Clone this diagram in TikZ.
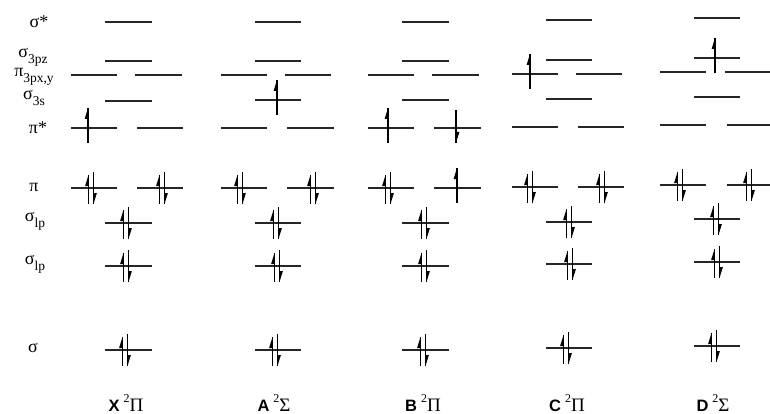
\documentclass[tikz,border=0pt]{standalone}
\usepackage{fontspec}
\setmainfont{Liberation Serif}
\newfontfamily\arialf{Liberation Sans}
\tikzset{
  lvl/.style={line width=1.3pt, black!85},
  eline/.style={line width=1.2pt},
  lab/.style={font=\fontsize{18}{20}\selectfont, inner sep=0pt},
  slab/.style={font=\fontsize{19}{20}\selectfont, inner sep=0pt, anchor=base},
}
\newcommand\mlev[3]{\draw[lvl] (#1,#3) -- (#2,#3);}
% single up electron at (x,y)
\newcommand\eup[2]{\draw[eline] (#1,#2-20) -- (#1,#2+15);
  \fill (#1,#2-20) -- ++(-3.4,11) -- ++(3.4,0) -- cycle;}
\newcommand\edn[2]{\draw[eline] (#1,#2-18) -- (#1,#2+15);
  \fill (#1,#2+15) -- ++(3.4,-11) -- ++(-3.4,0) -- cycle;}
\newcommand\epair[2]{\draw[eline] (#1-2.5,#2-13) -- (#1-2.5,#2+16);
  \fill (#1-2.5,#2-13) -- ++(-3.4,11) -- ++(3.4,0) -- cycle;
  \draw[eline] (#1+2.5,#2-16) -- (#1+2.5,#2+16);
  \fill (#1+2.5,#2+16) -- ++(3.4,-11) -- ++(-3.4,0) -- cycle;}
\newcommand\sub[1]{\raisebox{-0.35em}{\fontsize{13.5}{13}\selectfont #1}}
\newcommand\stl[2]{{\arialf\bfseries\fontsize{16.5}{18}\selectfont #1}\hspace{4pt}\raisebox{0.45em}{\fontsize{12}{12}\selectfont 2}#2}
\begin{document}
\begin{tikzpicture}[x=1pt,y=-1pt]
\useasboundingbox (0,0) rectangle (770,414);
% left labels
\node[lab] (l1) at (39,22) {σ*};
\node[lab] (l2) at (33,57) {σ\sub{3pz}};
\node[lab] (l3) at (34,77) {π\sub{3px,y}};
\node[lab] (l4) at (34,98) {σ\sub{3s}};
\node[lab] (l5) at (38,128) {π*};
\node[lab] (l6) at (34,187) {π};
\node[lab] (l7) at (35,221) {σ\sub{lp}};
\node[lab] (l8) at (35,264) {σ\sub{lp}};
\node[lab] (l9) at (33,348) {σ};
% ---------- X 2Pi ----------
\mlev{105}{152}{22}
\mlev{105}{152}{61}
\mlev{71}{117}{75} \mlev{135}{182}{75}
\mlev{105}{152}{101}
\mlev{71}{117}{128} \mlev{137}{183}{128} \eup{88}{128}
\mlev{71}{117}{188} \mlev{137}{183}{188} \epair{91}{188} \epair{162}{188}
\mlev{105}{152}{223} \epair{126}{223}
\mlev{105}{152}{266} \epair{126}{266}
\mlev{105}{152}{350} \epair{125}{350}
% ---------- A 2Sigma ----------
\mlev{255}{301}{22}
\mlev{255}{301}{61}
\mlev{221}{267}{75} \mlev{285}{331}{75}
\mlev{255}{301}{100} \eup{277}{100}
\mlev{221}{267}{128} \mlev{287}{334}{128}
\mlev{221}{267}{188} \mlev{287}{334}{188} \epair{240}{188} \epair{313}{188}
\mlev{255}{301}{223} \epair{276}{223}
\mlev{255}{301}{266} \epair{277}{266}
\mlev{255}{301}{350} \epair{275}{350}
% ---------- B 2Pi ----------
\mlev{402}{449}{22}
\mlev{402}{449}{61}
\mlev{368}{414}{75} \mlev{432}{479}{75}
\mlev{402}{449}{100}
\mlev{368}{414}{128} \mlev{434}{481}{128} \eup{388}{128} \edn{456}{128}
\mlev{368}{414}{188} \mlev{434}{481}{188} \epair{388}{188} \eup{457}{188}
\mlev{402}{449}{223} \epair{424}{223}
\mlev{402}{449}{266} \epair{424}{266}
\mlev{402}{449}{350} \epair{423}{350}
% ---------- C 2Pi ----------
\mlev{546}{592}{20}
\mlev{546}{592}{60}
\mlev{512}{558}{74} \mlev{576}{622}{74} \eup{530}{74}
\mlev{546}{592}{99}
\mlev{512}{558}{127} \mlev{578}{624}{127}
\mlev{512}{558}{187} \mlev{578}{624}{187} \epair{530}{187} \epair{602}{187}
\mlev{546}{592}{222} \epair{569}{222}
\mlev{546}{592}{264} \epair{570}{264}
\mlev{546}{592}{348} \epair{566}{348}
% ---------- D 2Sigma ----------
\mlev{694}{740}{18}
\mlev{694}{740}{58} \eup{715}{58}
\mlev{660}{706}{72} \mlev{725}{772}{72}
\mlev{694}{740}{97}
\mlev{660}{706}{125} \mlev{727}{772}{125}
\mlev{660}{706}{185} \mlev{727}{772}{185} \epair{680}{185} \epair{749}{185}
\mlev{694}{740}{219} \epair{716}{219}
\mlev{694}{740}{262} \epair{717}{262}
\mlev{694}{740}{346} \epair{714}{346}
% state labels
\node[slab] (sX) at (126,411) {\stl{X}{Π}};
\node[slab] (sA) at (274,411) {\stl{A}{Σ}};
\node[slab] (sB) at (423,411) {\stl{B}{Π}};
\node[slab] (sC) at (567,411) {\stl{C}{Π}};
\node[slab] (sD) at (713,411) {\stl{D}{Σ}};
\end{tikzpicture}
\end{document}
